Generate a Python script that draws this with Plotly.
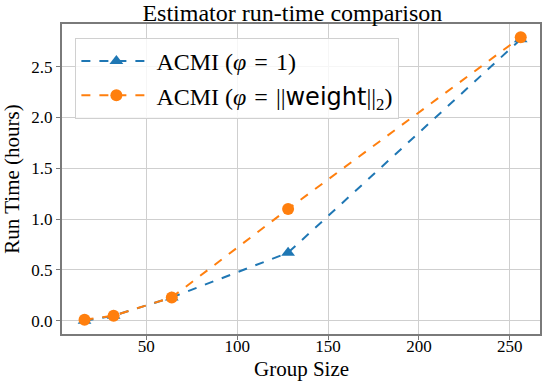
import plotly.graph_objects as go

group_size = [16, 32, 64, 128, 256]
acmi_phi1 = [0.00, 0.05, 0.23, 0.67, 2.77]
acmi_weight = [0.01, 0.05, 0.23, 1.10, 2.79]
x_ticks = [50, 100, 150, 200, 250]
y_ticks = [0.0, 0.5, 1.0, 1.5, 2.0, 2.5]

blue = "#1f77b4"
orange = "#ff7f0e"
serif = "Liberation Serif"

fig = go.Figure()
fig.add_trace(go.Scatter(
    x=group_size, y=acmi_phi1, mode="lines+markers",
    name="ACMI (<i>φ</i>\u2004=\u20041)",
    line=dict(color=blue, width=2, dash="dash"),
    marker=dict(symbol="triangle-up", size=12, color=blue),
))
fig.add_trace(go.Scatter(
    x=group_size, y=acmi_weight, mode="lines+markers",
    name="ACMI (<i>φ</i>\u2004=\u2004||<span style='font-family:DejaVu Sans'>weight</span>||<sub>2</sub>)",
    line=dict(color=orange, width=2, dash="dash"),
    marker=dict(symbol="circle", size=12, color=orange),
))

axis_common = dict(
    showgrid=True, gridcolor="#cfcfcf", gridwidth=1,
    showline=True, linecolor="#7a7a7a", linewidth=2, mirror=True,
    ticks="outside", ticklen=4, tickcolor="#7a7a7a",
    tickfont=dict(family=serif, size=17, color="black"),
    zeroline=False,
)

fig.update_layout(
    width=542, height=383,
    margin=dict(l=62, r=0, t=24, b=49),
    paper_bgcolor="white", plot_bgcolor="white",
    title=dict(text="Estimator run-time comparison", x=0.482, xref="paper", xanchor="center",
               y=0.99, yanchor="top",
               font=dict(family=serif, size=24, color="black")),
    xaxis=dict(range=[3.6, 266.6], tickvals=x_ticks, ticklabelstandoff=-8,
               **axis_common),
    yaxis=dict(range=[-0.13, 2.92], tickvals=y_ticks, tickformat=".1f",
               title=dict(text="Run Time (hours)", font=dict(family=serif, size=21, color="black"), standoff=6),
               **axis_common),
    legend=dict(x=0.028, y=0.955, xanchor="left", yanchor="top",
                bgcolor="rgba(255,255,255,0.8)", bordercolor="#d0d0d0", borderwidth=1,
                font=dict(family=serif, size=24, color="black"),
                itemwidth=70, tracegroupgap=0),
    showlegend=True,
)
fig.add_annotation(text="Group Size", xref="paper", yref="paper", x=0.5, y=-0.112,
                   xanchor="center", yanchor="middle", showarrow=False,
                   font=dict(family=serif, size=21, color="black"))

fig.write_html("out.html")
